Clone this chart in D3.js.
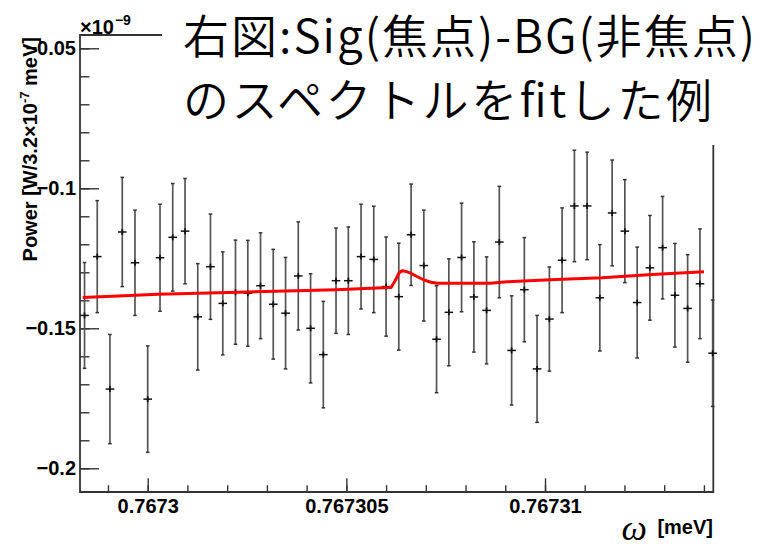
<!DOCTYPE html>
<html><head><meta charset="utf-8">
<script src="https://cdn.jsdelivr.net/npm/d3@7"></script>
<style>html,body{margin:0;padding:0;background:#fff;}svg{display:block;}</style>
</head><body>
<svg id="c" width="764" height="548"></svg>
<script>
// ---- data ----
const omega = [0.76729841,0.76729873,0.76729905,0.76729936,0.76729968,0.76730000,0.76730031,0.76730063,0.76730094,0.76730126,
0.76730158,0.76730189,0.76730221,0.76730252,0.76730284,0.76730316,0.76730347,0.76730379,0.76730410,0.76730442,
0.76730474,0.76730505,0.76730537,0.76730569,0.76730600,0.76730632,0.76730663,0.76730695,0.76730727,0.76730758,
0.76730790,0.76730821,0.76730853,0.76730885,0.76730916,0.76730948,0.76730980,0.76731011,0.76731043,0.76731074,
0.76731106,0.76731138,0.76731169,0.76731201,0.76731232,0.76731264,0.76731296,0.76731327,0.76731359,0.76731390,0.76731422];
const power = [-0.1454,-0.1244,-0.1717,-0.1156,-0.1266,-0.1753,-0.1248,-0.1175,-0.1153,-0.1459,
-0.1280,-0.1411,-0.1371,-0.1375,-0.1348,-0.1414,-0.1446,-0.1313,-0.1500,-0.1594,
-0.1330,-0.1330,-0.1244,-0.1254,-0.1351,-0.1387,-0.1166,-0.1276,-0.1539,-0.1443,
-0.1247,-0.1388,-0.1436,-0.1192,-0.1579,-0.1362,-0.1645,-0.1467,-0.1257,-0.1063,
-0.1063,-0.1391,-0.1088,-0.1153,-0.1408,-0.1284,-0.1212,-0.1382,-0.1429,-0.1341,-0.1589];
const powerErr = [0.0189,0.0200,0.0195,0.0195,0.0188,0.0190,0.0191,0.0192,0.0188,0.0190,
0.0188,0.0184,0.0186,0.0189,0.0189,0.0196,0.0199,0.0193,0.0195,0.0190,
0.0188,0.0192,0.0187,0.0190,0.0177,0.0191,0.0181,0.0198,0.0191,0.0191,
0.0194,0.0197,0.0191,0.0199,0.0195,0.0186,0.0191,0.0186,0.0187,0.0199,
0.0192,0.0190,0.0189,0.0184,0.0198,0.0187,0.0183,0.0185,0.0192,0.0196,0.0190];
const fitOmega = [0.767298364,0.767299252,0.767300259,0.767301266,0.767302273,0.767303481,0.767304740,0.767305923,
0.767306124,0.767306225,0.767306325,0.767306401,0.767306502,0.767306627,0.767306778,0.767306955,0.767307131,
0.767307282,0.767308616,0.767309044,0.767309724,0.767310277,0.767311435,0.767312694,0.767314003];
const fitPower = [-0.1390,-0.13846,-0.13786,-0.1375,-0.13714,-0.13668,-0.13621,-0.1355,
-0.13543,-0.1331,-0.13025,-0.12943,-0.1297,-0.13036,-0.1315,-0.13275,-0.13357,
-0.13393,-0.13393,-0.1334,-0.13293,-0.13257,-0.13193,-0.13079,-0.12979];
const xMajorTicks = [0.7673, 0.767305, 0.76731];
const xTickLabels = ["0.7673", "0.767305", "0.76731"];
const yMajorTicks = [-0.2, -0.15, -0.1, -0.05];
const yTickLabels = ["\u22120.2", "\u22120.15", "\u22120.1", "\u22120.05"];
const xMinorTicks = [0.767299,0.7673,0.767301,0.767302,0.767303,0.767304,0.767305,0.767306,0.767307,0.767308,0.767309,0.76731,0.767311,0.767312,0.767313,0.767314];
const yMinorTicks = [-0.2,-0.19,-0.18,-0.17,-0.16,-0.15,-0.14,-0.13,-0.12,-0.11,-0.1,-0.09,-0.08,-0.07,-0.06,-0.05];
const exponentBase = "\u00d710";
const exponentPower = "\u22129";
const yTitle = "Power [W/3.2\u00d710";
const yTitleSup = "-7";
const yTitleEnd = " meV]";
const titleLine1 = "右図:Sig(焦点)-BG(非焦点)";
const titleLine2 = "のスペクトルをfitした例";

// ---- layout ----
const L = 80, R = 713.3, T = 35, B = 492;
const svg = d3.select("#c");
const x = d3.scaleLinear().domain([0.767298296, 0.767314236]).range([L, R]);
const y = d3.scaleLinear().domain([-0.208464, -0.04525]).range([B, T]);
const axisColor = "#333";
const labelFont = "'Liberation Sans', Arial, Helvetica, sans-serif";

// axes
const gxMin = svg.append("g").attr("transform", `translate(0,${B})`)
  .call(d3.axisBottom(x).tickValues(xMinorTicks).tickSizeInner(-6.8).tickSizeOuter(0).tickFormat(""));
const gx = svg.append("g").attr("transform", `translate(0,${B})`)
  .call(d3.axisBottom(x).tickValues(xMajorTicks).tickSizeInner(-13.7).tickSizeOuter(0).tickPadding(6.5)
  .tickFormat((d,i) => xTickLabels[i]));
const gyMin = svg.append("g").attr("transform", `translate(${L},0)`)
  .call(d3.axisLeft(y).tickValues(yMinorTicks).tickSizeInner(-9.5).tickSizeOuter(0).tickFormat(""));
const gy = svg.append("g").attr("transform", `translate(${L},0)`)
  .call(d3.axisLeft(y).tickValues(yMajorTicks).tickSizeInner(-19).tickSizeOuter(0).tickPadding(4)
  .tickFormat((d,i) => yTickLabels[i]));
[gxMin, gx, gyMin, gy].forEach(g => {
  g.select(".domain").remove();
  g.selectAll(".tick line").attr("stroke", axisColor).attr("stroke-width", 1.4);
  g.selectAll("text").attr("font-family", labelFont).attr("font-weight", "bold")
    .attr("font-size", 20).attr("fill", "#000");
});

// frame
svg.append("path").attr("fill", "none").attr("stroke", axisColor).attr("stroke-width", 1.8)
  .attr("d", `M${L},${T}V${B}H${R}V${T}Z`);

// error bars
const pts = omega.map((o, i) => ({o, p: power[i], e: powerErr[i]}));
const gPts = svg.append("g");
const cap = 1.8, crossW = 4.3;
pts.forEach(d => {
  const cx = x(d.o), cy = y(d.p), yt = y(d.p + d.e), yb = y(d.p - d.e);
  gPts.append("line").attr("x1", cx).attr("x2", cx).attr("y1", yt).attr("y2", yb)
    .attr("stroke", "#555").attr("stroke-width", 1.7);
  [yt, yb].forEach(v => gPts.append("line").attr("x1", cx - cap).attr("x2", cx + cap)
    .attr("y1", v).attr("y2", v).attr("stroke", "#333").attr("stroke-width", 1.5));
  gPts.append("line").attr("x1", cx - crossW).attr("x2", cx + crossW).attr("y1", cy).attr("y2", cy)
    .attr("stroke", "#111").attr("stroke-width", 1.5);
  gPts.append("line").attr("x1", cx).attr("x2", cx).attr("y1", cy - 3).attr("y2", cy + 3)
    .attr("stroke", "#111").attr("stroke-width", 1.7);
});

// fit curve
svg.append("path").datum(fitOmega.map((o, i) => [o, fitPower[i]]))
  .attr("fill", "none").attr("stroke", "#ff0000").attr("stroke-width", 3)
  .attr("stroke-linejoin", "round")
  .attr("d", d3.line().x(d => x(d[0])).y(d => y(d[1])));

// exponent label
const exBase = svg.append("text").attr("x", 80).attr("y", 34)
  .attr("font-family", labelFont).attr("font-weight", "bold").attr("font-size", 20).attr("fill", "#000")
  .text(exponentBase);
const bb = exBase.node().getBBox();
svg.append("text").attr("x", bb.x + bb.width + 1).attr("y", 25)
  .attr("font-family", labelFont).attr("font-weight", "bold").attr("font-size", 14).attr("fill", "#000")
  .text(exponentPower);

// y title
const yt = svg.append("text").attr("transform", "translate(37,37) rotate(-90)")
  .attr("text-anchor", "end").attr("font-family", labelFont).attr("font-weight", "bold")
  .attr("font-size", 20).attr("fill", "#000");
yt.append("tspan").text(yTitle);
yt.append("tspan").attr("font-size", 13).attr("dy", -8).text(yTitleSup);
yt.append("tspan").attr("dy", 8).text(yTitleEnd);

// x title
svg.append("text").attr("x", 713).attr("y", 534).attr("text-anchor", "end")
  .attr("font-family", labelFont).attr("font-weight", "bold").attr("font-size", 20).attr("fill", "#000")
  .text("[meV]");
svg.append("text").attr("x", 647).attr("y", 540).attr("text-anchor", "end")
  .attr("font-family", "'Liberation Serif', 'DejaVu Serif', serif").attr("font-style", "italic")
  .attr("font-size", 36).attr("fill", "#000").text("\u03c9");

// overlay text box
svg.append("rect").attr("x", 162).attr("y", 0).attr("width", 764 - 162).attr("height", 145).attr("fill", "#fff");
const jp = "'Noto Sans CJK JP', 'Noto Sans CJK SC', sans-serif";
svg.append("text").attr("x", 183).attr("y", 53).attr("font-family", jp).attr("font-size", 46)
  .attr("font-weight", 350).attr("textLength", 572).attr("lengthAdjust", "spacing")
  .attr("fill", "#000").text(titleLine1);
svg.append("text").attr("x", 183).attr("y", 117).attr("font-family", jp).attr("font-size", 46)
  .attr("font-weight", 350).attr("textLength", 529).attr("lengthAdjust", "spacing")
  .attr("fill", "#000").text(titleLine2);
</script>
</body></html>
